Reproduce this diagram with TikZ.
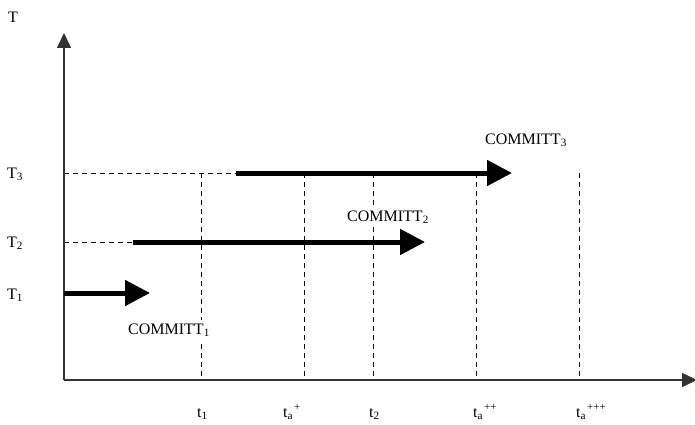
\documentclass[tikz,border=0pt]{standalone}
\usepackage{fontspec}
\setmainfont{Liberation Serif}
\usetikzlibrary{arrows.meta}
% raised "+" marks after a subscript
\newcommand{\plusmarks}[1]{\hspace{1pt}\raisebox{7pt}{\fontsize{11}{11}\selectfont #1}}
\begin{document}
\begin{tikzpicture}[x=1pt,y=-1pt,
  axis/.style={draw=black!80, line width=1.6pt, -{Triangle[length=15pt,width=14pt]}},
  guide/.style={draw=black, line width=1pt, dash pattern=on 5pt off 4pt},
  txn/.style={draw=black, line width=5pt, -{Triangle[length=25pt,width=25pt]}},
  lbl/.style={font=\fontsize{16}{19}\selectfont, inner sep=0pt, anchor=base west},
  commit/.style={lbl, fill=white, inner sep=3pt},
]
\clip (0,0) rectangle (695,425);

% axes
\coordinate (O) at (64,380);
\coordinate (ytop) at (64,33);
\coordinate (xend) at (697,380);

% levels of the three transactions
\coordinate (L3) at (64,173);
\coordinate (L2) at (64,242);
\coordinate (L1) at (64,293);

% transaction start / commit points
\coordinate (s3) at (236,173);
\coordinate (e3) at (512,173);
\coordinate (s2) at (133,242);
\coordinate (e2) at (425,242);
\coordinate (e1) at (150,293);

% time marks on the level of T3 and on the axis
\foreach \n/\x in {t1/201, tap/304, t2/373, tapp/476, tappp/579} {
  \coordinate (\n top) at (\x,173);
  \coordinate (\n bot) at (\x,380);
}

% dashed guides
\draw[guide] (L3) -- (s3);
\draw[guide] (L2) -- (s2);
\foreach \n in {t1, tap, t2, tapp, tappp}
  \draw[guide] (\n top) -- (\n bot);

% axes
\draw[axis] (O) -- (ytop);
\draw[axis] (O) -- (xend);

% transactions
\draw[txn] (s3) -- (e3);
\draw[txn] (s2) -- (e2);
\draw[txn] (L1) -- (e1);

% labels
\node[lbl] (lT) at (8,23) {T};
\node[lbl] (lT3) at (7,178) {T\textsubscript{3}};
\node[lbl] (lT2) at (7,247) {T\textsubscript{2}};
\node[lbl] (lT1) at (7,299) {T\textsubscript{1}};

\node[commit] (c1) at (125,334) {COMMITT\textsubscript{1}};
\node[commit] (c2) at (344,221) {COMMITT\textsubscript{2}};
\node[commit] (c3) at (482,144) {COMMITT\textsubscript{3}};

\node[lbl] (lt1) at (197,417) {t\textsubscript{1}};
\node[lbl] (ltap) at (283,417) {t\textsubscript{a}\plusmarks{+}};
\node[lbl] (lt2) at (369,417) {t\textsubscript{2}};
\node[lbl] (ltapp) at (473,417) {t\textsubscript{a}\plusmarks{++}};
\node[lbl] (ltappp) at (576,417) {t\textsubscript{a}\plusmarks{+++}};
\end{tikzpicture}
\end{document}
